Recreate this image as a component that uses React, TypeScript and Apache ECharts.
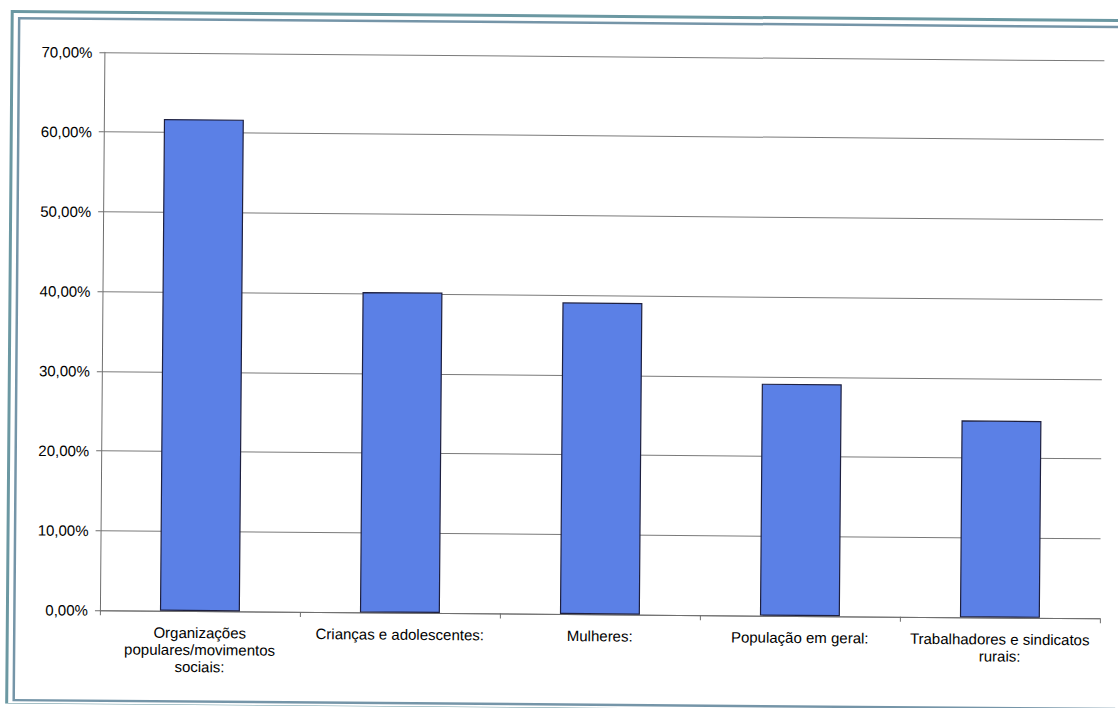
import React, { useEffect, useRef } from "react";
import * as echarts from "echarts";

// Categories (line breaks as printed under each bar)
const categories: string[] = [
  "Organizações\npopulares/movimentos\nsociais:",
  "Crianças e adolescentes:",
  "Mulheres:",
  "População em geral:",
  "Trabalhadores e sindicatos\nrurais:",
];

// Share of responses per category (%)
const shares: number[] = [61.7, 40.2, 39.1, 29.1, 24.7];

// Value axis range (%)
const axisMin = 0;
const axisMax = 70;
const axisStep = 10;

const fmtPct = (v: number) => v.toFixed(2).replace(".", ",") + "%";

export default function App() {
  const ref = useRef<HTMLDivElement>(null);

  useEffect(() => {
    if (!ref.current) return;
    const chart = echarts.init(ref.current, undefined, { renderer: "svg" });
    const font = "'Liberation Sans', Arial, sans-serif";
    const frame = "#6b98a2";

    chart.setOption({
      animation: false,
      backgroundColor: "#ffffff",
      grid: { left: 102, right: 16, top: 56, bottom: 94, containLabel: false },
      xAxis: {
        type: "category",
        data: categories,
        boundaryGap: true,
        axisLine: { show: true, lineStyle: { color: "#6e6e6e", width: 1 } },
        axisTick: { show: true, length: 5, alignWithLabel: false, lineStyle: { color: "#6e6e6e" } },
        axisLabel: {
          interval: 0,
          margin: 13,
          fontFamily: font,
          fontSize: 15,
          lineHeight: 17,
          color: "#000",
          align: "center",
        },
        splitLine: { show: false },
      },
      yAxis: {
        type: "value",
        min: axisMin,
        max: axisMax,
        interval: axisStep,
        axisLine: { show: true, lineStyle: { color: "#6e6e6e", width: 1 } },
        axisTick: { show: true, length: 5, lineStyle: { color: "#6e6e6e" } },
        axisLabel: {
          margin: 12,
          fontFamily: font,
          fontSize: 15,
          color: "#000",
          formatter: (v: number) => fmtPct(v),
        },
        splitLine: { show: true, lineStyle: { color: "#7a7a7a", width: 1 } },
      },
      series: [
        {
          type: "bar",
          data: shares,
          barWidth: "40%",
          itemStyle: {
            color: "#5b80e6",
            borderColor: "#1e2040",
            borderWidth: 1.2,
          },
        },
      ],
      graphic: [
        {
          type: "rect",
          silent: true,
          shape: { x: 9.5, y: 16, width: 1200, height: 693 },
          style: { fill: "none", stroke: frame, lineWidth: 3 },
        },
        {
          type: "rect",
          silent: true,
          shape: { x: 16.5, y: 22.5, width: 1200, height: 682 },
          style: { fill: "none", stroke: "#7595a8", lineWidth: 2.5 },
        },
      ],
    });

    return () => chart.dispose();
  }, []);

  return (
    <div
      style={{
        position: "fixed",
        left: 0,
        top: 0,
        width: 1118,
        height: 708,
        background: "#fff",
        overflow: "hidden",
      }}
    >
      <div
        ref={ref}
        style={{
          width: 1118,
          height: 708,
          transform: "rotate(0.46deg)",
          transformOrigin: "559px 354px",
        }}
      />
    </div>
  );
}
